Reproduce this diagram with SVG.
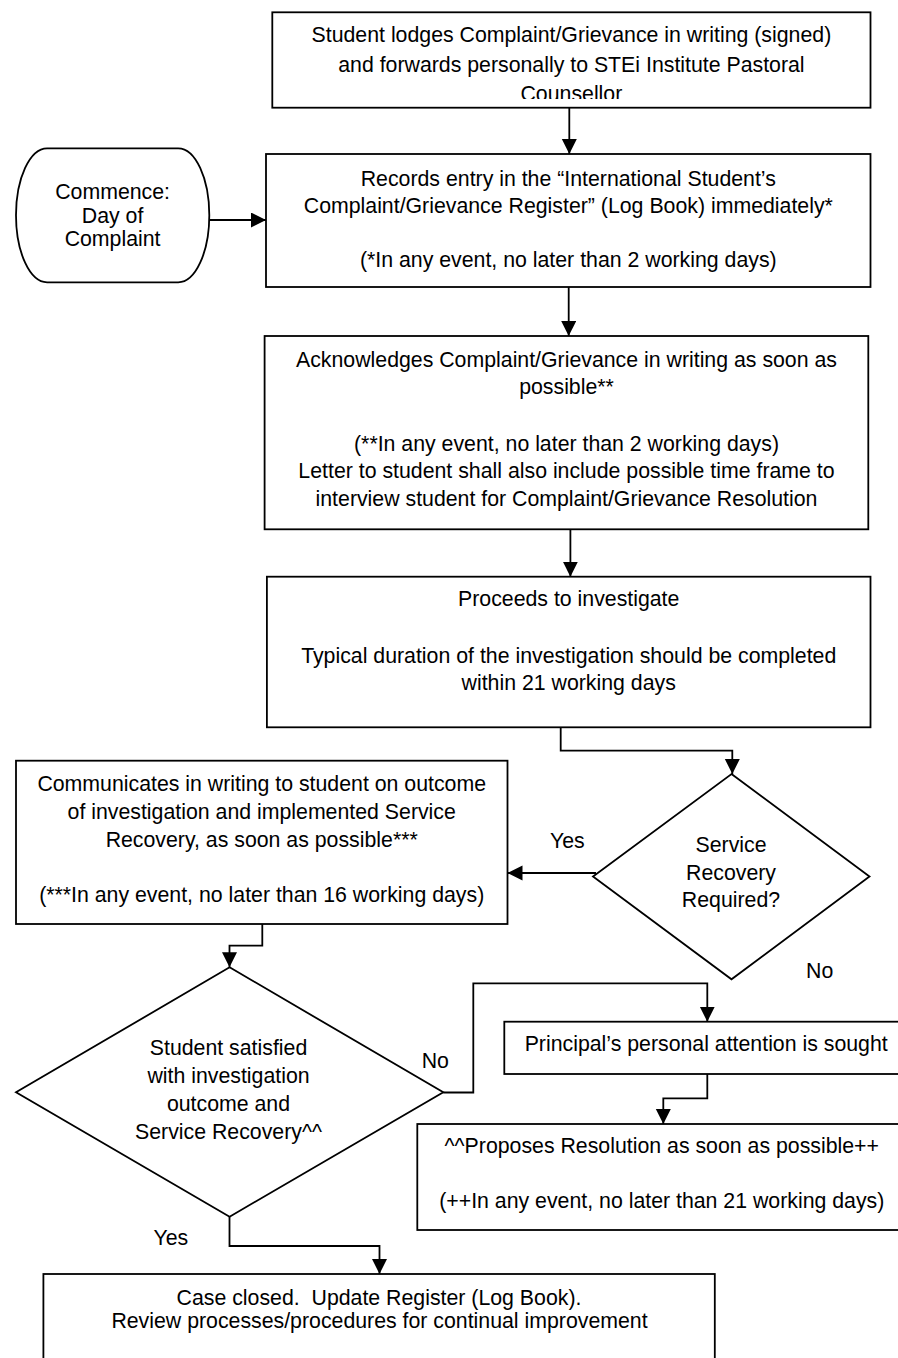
<svg xmlns="http://www.w3.org/2000/svg" width="898" height="1358" viewBox="0 0 898 1358">
<style>
.shape{fill:#fff;stroke:#000;stroke-width:1.8}
.t{font-family:"Liberation Sans",Arial,sans-serif;font-size:21.3px;fill:#000;text-anchor:middle}
.lbl{font-family:"Liberation Sans",Arial,sans-serif;font-size:21.3px;fill:#000}
.c{fill:none;stroke:#000;stroke-width:1.8;marker-end:url(#ah)}
</style>
<defs>
<marker id="ah" markerUnits="userSpaceOnUse" markerWidth="16" markerHeight="16" refX="15" refY="7.5" orient="auto">
<path d="M0,0 L15,7.5 L0,15 Z" fill="#000"/>
</marker>
<clipPath id="clip1"><rect x="272" y="12" width="599" height="87"/></clipPath>
</defs>
<rect width="898" height="1358" fill="#fff"/>

<g id="connectors">
<path class="c" d="M569.3,107.7 V154"/>
<path class="c" d="M209.3,220 H266"/>
<path class="c" d="M568.7,287 V336"/>
<path class="c" d="M570.4,529.3 V576.7"/>
<path class="c" d="M560.7,727.3 V750.7 H732.3 V774"/>
<path class="c" d="M596,873 H507.5"/>
<path class="c" d="M262.3,924 V945.7 H229.5 V967.3"/>
<path class="c" d="M443.3,1092.5 H473.3 V983.3 H707.3 V1021.7"/>
<path class="c" d="M707.3,1074 V1098.3 H663.3 V1124"/>
<path class="c" d="M229.5,1216.7 V1246 H379.5 V1274"/>
</g>

<g id="box1">
<rect class="shape" x="272.3" y="12.3" width="598.2" height="95.4"/>
<g clip-path="url(#clip1)">
<text class="t" x="571.4" y="42.3">Student lodges Complaint/Grievance in writing (signed)</text>
<text class="t" x="571.4" y="71.7">and forwards personally to STEi Institute Pastoral</text>
<text class="t" x="571.4" y="101.3">Counsellor</text>
</g>
</g>

<g id="commence">
<path class="shape" d="M47.1,148.3 H178.2 A31.1,67 0 0 1 178.2,282.3 H47.1 A31.1,67 0 0 1 47.1,148.3 Z"/>
<text class="t" x="112.6" y="199.3">Commence:</text>
<text class="t" x="112.6" y="222.5">Day of</text>
<text class="t" x="112.6" y="246">Complaint</text>
</g>

<g id="box2">
<rect class="shape" x="266" y="154" width="604.5" height="133"/>
<text class="t" x="568.3" y="185.7">Records entry in the “International Student’s</text>
<text class="t" x="568.3" y="212.7">Complaint/Grievance Register” (Log Book) immediately*</text>
<text class="t" x="568.3" y="266.5">(*In any event, no later than 2 working days)</text>
</g>

<g id="box3">
<rect class="shape" x="264.6" y="336" width="603.7" height="193.3"/>
<text class="t" x="566.5" y="366.7">Acknowledges Complaint/Grievance in writing as soon as</text>
<text class="t" x="566.5" y="394.2">possible**</text>
<text class="t" x="566.5" y="450.5">(**In any event, no later than 2 working days)</text>
<text class="t" x="566.5" y="478">Letter to student shall also include possible time frame to</text>
<text class="t" x="566.5" y="505.6">interview student for Complaint/Grievance Resolution</text>
</g>

<g id="box4">
<rect class="shape" x="266.9" y="576.7" width="603.6" height="150.6"/>
<text class="t" x="568.7" y="606">Proceeds to investigate</text>
<text class="t" x="568.7" y="662.7">Typical duration of the investigation should be completed</text>
<text class="t" x="568.7" y="690">within 21 working days</text>
</g>

<g id="decision1">
<path class="shape" d="M731.5,774 L869.5,876.5 L731.5,979.3 L593,876.5 Z"/>
<text class="t" x="731" y="851.7">Service</text>
<text class="t" x="731" y="880">Recovery</text>
<text class="t" x="731" y="906.7">Required?</text>
</g>

<g id="box5">
<rect class="shape" x="16" y="760.7" width="491.5" height="163.3"/>
<text class="t" x="261.7" y="790.7">Communicates in writing to student on outcome</text>
<text class="t" x="261.7" y="819.3">of investigation and implemented Service</text>
<text class="t" x="261.7" y="847.3">Recovery, as soon as possible***</text>
<text class="t" x="261.7" y="902.3">(***In any event, no later than 16 working days)</text>
</g>

<g id="decision2">
<path class="shape" d="M229.6,967.3 L443.3,1092.3 L229.6,1216.7 L16,1092.3 Z"/>
<text class="t" x="228.5" y="1055">Student satisfied</text>
<text class="t" x="228.5" y="1082.7">with investigation</text>
<text class="t" x="228.5" y="1110.7">outcome and</text>
<text class="t" x="228.5" y="1138.7">Service Recovery^^</text>
</g>

<g id="box6">
<rect class="shape" x="504.3" y="1021.7" width="404" height="52.3"/>
<text class="t" x="706.2" y="1050.7">Principal’s personal attention is sought</text>
</g>

<g id="box7">
<rect class="shape" x="417.3" y="1124" width="489" height="106"/>
<text class="t" x="661.8" y="1153.3">^^Proposes Resolution as soon as possible++</text>
<text class="t" x="661.8" y="1208.3">(++In any event, no later than 21 working days)</text>
</g>

<g id="box8">
<rect class="shape" x="43.4" y="1274" width="671.4" height="110"/>
<text class="t" x="379" y="1305" xml:space="preserve">Case closed.  Update Register (Log Book).</text>
<text class="t" x="379.5" y="1328.3">Review processes/procedures for continual improvement</text>
</g>

<g id="labels">
<text class="lbl" x="550" y="848.3">Yes</text>
<text class="lbl" x="806" y="978.3">No</text>
<text class="lbl" x="421.7" y="1068.3">No</text>
<text class="lbl" x="153.5" y="1245">Yes</text>
</g>
</svg>
